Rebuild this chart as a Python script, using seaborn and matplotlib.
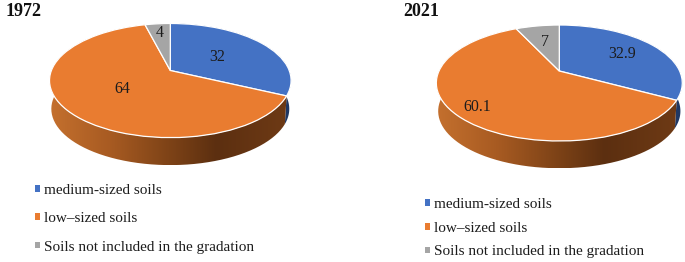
import numpy as np
import matplotlib
matplotlib.use("Agg")
import matplotlib.pyplot as plt
from matplotlib.colors import LinearSegmentedColormap
from matplotlib.patches import Patch, PathPatch, Polygon
from matplotlib.path import Path
from matplotlib.transforms import Transform
import seaborn as sns

# ---- data -------------------------------------------------------------
categories = ["medium-sized soils", "low\u2013sized soils", "Soils not included in the gradation"]
years = ["1972", "2021"]
values_1972 = [32, 64, 4]
values_2021 = [32.9, 60.1, 7]
labels_1972 = ["32", "64", "4"]
labels_2021 = ["32.9", "60.1", "7"]
# ---- style ------------------------------------------------------------
palette = sns.color_palette(["#4472C4", "#E97C30", "#A5A5A5"])
blue_side = "#1F3864"
label_radius_1972 = [0.494, 0.495, 0.765]
label_radius_2021 = [0.645, 0.83, 0.597]

sns.set_theme(style="white")
plt.rcParams["font.family"] = ["Liberation Serif", "DejaVu Serif"]
TEXT = "#1c1c1c"
side_cmap = LinearSegmentedColormap.from_list(
    "side", [(0, "#C4702E"), (0.25, "#A85B22"), (0.5, "#7E4317"),
             (0.7, "#5C2F10"), (1, "#6E3A15")])


class Perspective(Transform):
    """Projective tilt of the unit-circle pie into pixel-like axis units."""
    input_dims = output_dims = 2
    is_separable = False
    has_inverse = False

    def __init__(self, cx, cy, sx, sy, k, drop=0.0, shrink=1.0):
        super().__init__()
        self.p = (cx, cy, sx, sy, k, drop, shrink)

    def transform_non_affine(self, v):
        cx, cy, sx, sy, k, drop, shrink = self.p
        v = np.asarray(v, float)
        w = 1 + k * v[:, 1]
        return np.column_stack([cx + shrink * sx * v[:, 0] / w,
                                cy + drop - shrink * sy * v[:, 1] / w])

    def apply(self, x, y):
        return self.transform_non_affine(np.array([[x, y]]))[0]


def draw_panel(ax, title, values, labels, radii, xlim, geom, depth, shrink,
               title_xy, legend_xy, legend_space):
    top = Perspective(*geom)
    low = Perspective(*geom, drop=depth, shrink=shrink)
    wedges, _ = ax.pie(values, colors=palette, startangle=90, counterclock=False,
                       wedgeprops=dict(edgecolor="white", linewidth=0.9, zorder=4))
    ax.set_aspect("auto")
    for w in wedges:
        w.set_transform(top + ax.transData)

    # extruded rim of each slice
    for i, w in enumerate(wedges):
        t = np.radians(np.linspace(w.theta1, w.theta2, 160))
        ring = np.column_stack([np.cos(t), np.sin(t)])
        verts = np.vstack([top.transform_non_affine(ring),
                           low.transform_non_affine(ring)[::-1]])
        if i == 0:
            ax.add_patch(Polygon(verts, closed=True, fc=blue_side, ec="none", zorder=2))
        elif i == 1:
            clip = PathPatch(Path(np.vstack([verts, verts[:1]])), fc="none", ec="none",
                             transform=ax.transData)
            ax.add_patch(clip)
            x0, x1 = verts[:, 0].min(), verts[:, 0].max()
            im = ax.imshow(np.linspace(0, 1, 256)[None, :], cmap=side_cmap, aspect="auto",
                           extent=(x0, x1, verts[:, 1].max(), verts[:, 1].min()), zorder=2)
            im.set_clip_path(clip)

    # value labels
    for w, lab, r in zip(wedges, labels, radii):
        a = np.radians((w.theta1 + w.theta2) / 2)
        x, y = top.apply(r * np.cos(a), r * np.sin(a))
        ax.text(x, y, lab, ha="center", va="center", fontsize=11.5, color=TEXT, zorder=6)

    ax.set_xlim(*xlim)
    ax.set_ylim(262, 0)
    ax.axis("off")
    ax.text(*title_xy, title, fontsize=13, fontweight="bold", color="#111111",
            ha="left", va="center")
    handles = [Patch(facecolor=c, edgecolor="none") for c in palette]
    ax.legend(handles, categories, loc="upper left", bbox_to_anchor=legend_xy,
              bbox_transform=ax.transData, frameon=False, fontsize=11,
              labelcolor=TEXT, borderpad=0, borderaxespad=0, handlelength=0.3,
              handleheight=0.3, handletextpad=0.3, labelspacing=legend_space)


fig = plt.figure(figsize=(6.85, 2.62), dpi=100, facecolor="white")
ax1 = fig.add_axes([0, 0, 342 / 685, 1])
ax2 = fig.add_axes([342 / 685, 0, 343 / 685, 1])

draw_panel(ax1, years[0], values_1972, labels_1972, label_radius_1972, (0, 342),
           (170.3, 70.5, 118.9, 55.3, 0.176), 28.5, 0.985,
           (6, 11), (35, 184), 1.0)
draw_panel(ax2, years[1], values_2021, labels_2021, label_radius_2021, (342, 685),
           (559.3, 71, 120.3, 55.5, 0.207), 28.3, 0.985,
           (403, 11), (425, 198), 0.7)

fig.savefig("out.png", dpi=100, facecolor="white")
